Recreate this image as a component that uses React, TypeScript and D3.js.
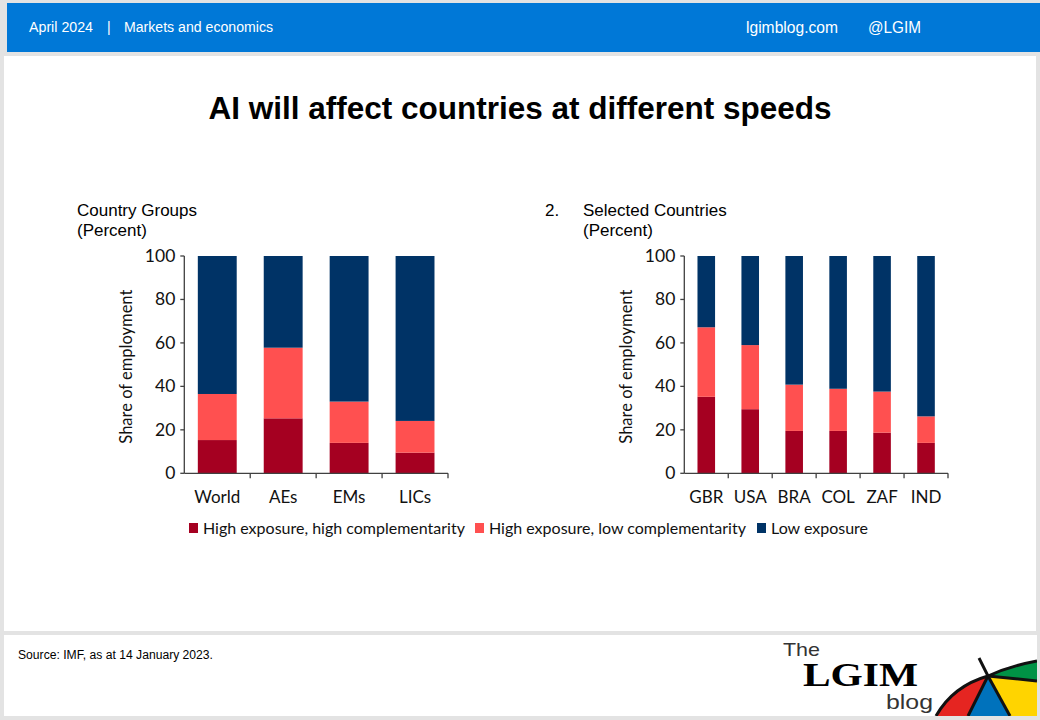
import React from "react";
import * as d3 from "d3";

const groupCategories = ["World", "AEs", "EMs", "LICs"];
const groupHighHigh = [15.3, 25.3, 14.0, 9.5];
const groupHighLow = [21.2, 32.5, 19.0, 14.6];
const groupLow = [63.5, 42.2, 67.0, 75.9];

const countryCategories = ["GBR", "USA", "BRA", "COL", "ZAF", "IND"];
const countryHighHigh = [35.2, 29.5, 19.5, 19.5, 18.7, 14.0];
const countryHighLow = [32.0, 29.5, 21.3, 19.4, 18.9, 12.2];
const countryLow = [32.8, 41.0, 59.2, 61.1, 62.4, 73.8];

const seriesNames = [
  "High exposure, high complementarity",
  "High exposure, low complementarity",
  "Low exposure",
];
const seriesColors = ["#a50021", "#ff5050", "#003366"];
const yTicks = [0, 20, 40, 60, 80, 100];

const labelFont = "Lato, 'Open Sans', sans-serif";
const arial = "'Liberation Sans', Arial, sans-serif";

type PanelProps = {
  x0: number;
  x1: number;
  categories: string[];
  a: number[];
  b: number[];
  c: number[];
  padding: number;
};

function Panel({ x0, x1, categories, a, b, c, padding }: PanelProps) {
  const yTop = 256;
  const yBot = 473.3;
  const x = d3.scaleBand<string>().domain(categories).range([x0, x1]).paddingInner(padding).paddingOuter(padding / 2);
  const y = d3.scaleLinear().domain([0, 100]).range([yBot, yTop]);
  const rows = categories.map((cat, i) => ({ cat, s0: a[i], s1: b[i], s2: c[i] }));
  const stack = d3.stack<any>().keys(["s0", "s1", "s2"]);
  const layers = stack(rows);
  const step = (x1 - x0) / categories.length;
  const axisColor = "#404040";
  return (
    <g>
      {layers.map((layer, li) => (
        <g key={li} fill={seriesColors[li]}>
          {layer.map((d: any, i: number) => (
            <rect
              key={i}
              x={x(d.data.cat)}
              width={x.bandwidth()}
              y={y(d[1])}
              height={y(d[0]) - y(d[1])}
            />
          ))}
        </g>
      ))}
      <line x1={x0} x2={x0} y1={yTop} y2={yBot} stroke={axisColor} strokeWidth={1.3} />
      <line x1={x0} x2={x1} y1={yBot} y2={yBot} stroke={axisColor} strokeWidth={1.3} />
      {yTicks.map((t) => (
        <g key={t}>
          <line x1={x0 - 4} x2={x0} y1={y(t)} y2={y(t)} stroke={axisColor} strokeWidth={1.3} />
          <text x={x0 - 9} y={y(t) + 6} textAnchor="end" fontSize={17.5} fontFamily={labelFont} fill="#111">
            {t}
          </text>
        </g>
      ))}
      {categories.map((cat, i) => (
        <g key={cat}>
          <line
            x1={x0 + step * (i + 1)}
            x2={x0 + step * (i + 1)}
            y1={yBot}
            y2={yBot + 5}
            stroke={axisColor}
            strokeWidth={1.3}
          />
          <text
            x={(x(cat) as number) + x.bandwidth() / 2}
            y={503}
            textAnchor="middle"
            fontSize={17}
            fontFamily={labelFont}
            fill="#111"
          >
            {cat}
          </text>
        </g>
      ))}
      <text
        transform={`translate(${x0 - 52},${(yTop + yBot) / 2 + 2}) rotate(-90)`}
        textAnchor="middle"
        fontSize={16.5}
        fontFamily={labelFont}
        fill="#111"
      >
        Share of employment
      </text>
    </g>
  );
}

export default function App() {
  const legendX = [189, 475, 757];
  return (
    <svg
      width={1040}
      height={720}
      style={{ position: "absolute", left: 0, top: 0, display: "block" }}
      xmlns="http://www.w3.org/2000/svg"
    >
      <rect x={0} y={0} width={1040} height={720} fill="#e3e3e3" />
      <rect x={7} y={3} width={1033} height={49} fill="#0078d7" />
      <g fill="#fff" fontFamily={arial} fontSize={14}>
        <text x={29} y={32} textLength={64} lengthAdjust="spacingAndGlyphs">April 2024</text>
        <text x={107} y={32}>|</text>
        <text x={124} y={32} textLength={149} lengthAdjust="spacingAndGlyphs">Markets and economics</text>
        <text x={746} y={33} fontSize={16} textLength={92} lengthAdjust="spacingAndGlyphs">lgimblog.com</text>
        <text x={868} y={33} fontSize={16} textLength={53} lengthAdjust="spacingAndGlyphs">@LGIM</text>
      </g>
      <rect x={4} y={56} width={1032} height={575} fill="#ffffff" />
      <rect x={4} y={635} width={1033} height={81} fill="#ffffff" />

      <text x={520} y={119} textAnchor="middle" fontFamily={arial} fontWeight="bold" fontSize={31.5} fill="#000">
        AI will affect countries at different speeds
      </text>

      <g fontFamily={arial} fontSize={17} fill="#000">
        <text x={77} y={216}>Country Groups</text>
        <text x={77} y={236}>(Percent)</text>
        <text x={545} y={216}>2.</text>
        <text x={583} y={216}>Selected Countries</text>
        <text x={583} y={236}>(Percent)</text>
      </g>

      <Panel x0={184.3} x1={448} categories={groupCategories} a={groupHighHigh} b={groupHighLow} c={groupLow} padding={0.41} />
      <Panel x0={684.3} x1={948} categories={countryCategories} a={countryHighHigh} b={countryHighLow} c={countryLow} padding={0.6} />

      {seriesNames.map((name, i) => (
        <g key={name}>
          <rect x={legendX[i]} y={523} width={9} height={10} fill={seriesColors[i]} />
          <text x={legendX[i] + 14} y={534} fontSize={16} fontFamily={labelFont} fill="#111">
            {name}
          </text>
        </g>
      ))}

      <text x={18} y={659} fontFamily={arial} fontSize={12} fill="#000" textLength={195} lengthAdjust="spacingAndGlyphs">
        Source: IMF,  as at 14 January 2023.
      </text>

      <g>
        <text x={783} y={656} fontFamily={arial} fontSize={19} fill="#333" textLength={37} lengthAdjust="spacingAndGlyphs">The</text>
        <text x={803} y={686} fontFamily="'Liberation Serif', serif" fontWeight="bold" fontSize={34} fill="#000" textLength={115} lengthAdjust="spacingAndGlyphs">LGIM</text>
        <text x={886} y={709} fontFamily={arial} fontSize={21} fill="#333" textLength={47} lengthAdjust="spacingAndGlyphs">blog</text>
        <clipPath id="footclip">
          <rect x={4} y={635} width={1033} height={81} />
        </clipPath>
        <g clipPath="url(#footclip)">
          <path d="M936,716 Q953,686 988,676 L968,716 Z" fill="#e52521" />
          <path d="M988,676 L968,716 L1010,716 Z" fill="#0072bc" />
          <path d="M988,676 L1010,716 L1037,716 L1037,681 Z" fill="#ffd400" />
          <path d="M988,676 Q1010,666 1037,661 L1037,681 Z" fill="#009245" />
          <g stroke="#111" strokeWidth={3} fill="none">
            <path d="M936,716 Q953,686 988,676 Q1010,666 1037,661" />
            <path d="M979,658 L988,676" />
            <path d="M988,676 L968,716" />
            <path d="M988,676 L1010,716" />
            <path d="M988,676 L1037,681" />
          </g>
        </g>
      </g>
    </svg>
  );
}
